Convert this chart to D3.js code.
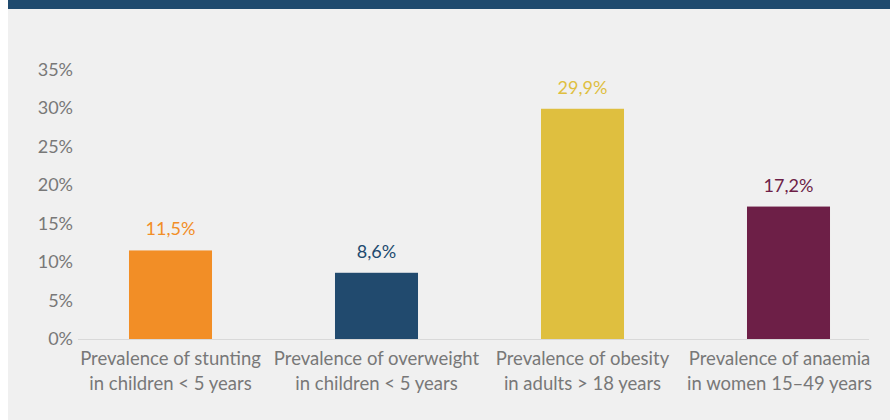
<!DOCTYPE html>
<html>
<head>
<meta charset="utf-8">
<script src="https://cdn.jsdelivr.net/npm/d3@7"></script>
<style>
  html, body { margin: 0; padding: 0; background: #ffffff; }
  svg { display: block; }
</style>
</head>
<body>
<svg id="chart" width="890" height="420"></svg>
<script>
const categories = [
  ["Prevalence of stunting", "in children < 5 years"],
  ["Prevalence of overweight", "in children < 5 years"],
  ["Prevalence of obesity", "in adults > 18 years"],
  ["Prevalence of anaemia", "in women 15\u201349 years"]
];
const values = [11.5, 8.6, 29.9, 17.2];
const valueLabels = ["11,5%", "8,6%", "29,9%", "17,2%"];
const barColors = ["#F28E26", "#214A6E", "#DFBF3F", "#6D1F47"];
const yTicks = [0, 5, 10, 15, 20, 25, 30, 35];

const svg = d3.select("#chart");
const W = 890, H = 420;
const font = "Lato, 'Open Sans', sans-serif";
const textGray = "#787878";

svg.append("rect").attr("x", 8).attr("y", 0).attr("width", W - 8).attr("height", H).attr("fill", "#f0f0f0");
svg.append("rect").attr("x", 8).attr("y", 0).attr("width", W - 8).attr("height", 9).attr("fill", "#1F4A6E");

const x = d3.scaleBand().domain(d3.range(categories.length)).range([67.5, 891.5]).paddingInner(0.597).paddingOuter(0.2985);
const y = d3.scaleLinear().domain([0, 35]).range([339, 69.5]);

const yAxis = d3.axisLeft(y).tickValues(yTicks).tickFormat(d => d + "%").tickSize(0).tickPadding(0);
const gy = svg.append("g").attr("transform", "translate(73,0)").call(yAxis);
gy.select(".domain").remove();
gy.selectAll("text").attr("fill", textGray).style("font-family", font).style("font-size", "18px");

svg.append("g").selectAll("rect").data(values).join("rect")
  .attr("x", (d, i) => x(i))
  .attr("y", d => y(d))
  .attr("width", x.bandwidth())
  .attr("height", d => y(0) - y(d))
  .attr("fill", (d, i) => barColors[i]);

svg.append("line").attr("x1", 78).attr("x2", 869).attr("y1", y(0) + 0.5).attr("y2", y(0) + 0.5)
  .attr("stroke", "#d9d9d9").attr("stroke-width", 1);

svg.append("g").selectAll("text").data(values).join("text")
  .attr("x", (d, i) => x(i) + x.bandwidth() / 2)
  .attr("y", d => y(d) - 15)
  .attr("text-anchor", "middle")
  .attr("fill", (d, i) => barColors[i])
  .style("font-family", font).style("font-size", "18px")
  .text((d, i) => valueLabels[i]);

// category labels, kept inside the plot's horizontal bounds
const minX = 75, maxX = 872;
const cat = svg.append("g").selectAll("text").data(categories).join("text")
  .attr("text-anchor", "middle")
  .attr("y", 365)
  .attr("fill", textGray)
  .style("font-family", font).style("font-size", "18.5px");
cat.each(function (d, i) {
  const t = d3.select(this);
  let cx = x(i) + x.bandwidth() / 2;
  t.attr("x", cx);
  const spans = t.selectAll("tspan").data(d).join("tspan")
    .attr("x", cx)
    .attr("dy", (s, j) => j === 0 ? 0 : 25)
    .text(s => s);
  const w = d3.max(spans.nodes(), n => n.getComputedTextLength());
  if (cx - w / 2 < minX) cx = minX + w / 2;
  if (cx + w / 2 > maxX) cx = maxX - w / 2;
  t.attr("x", cx);
  spans.attr("x", cx);
});
</script>
</body>
</html>
